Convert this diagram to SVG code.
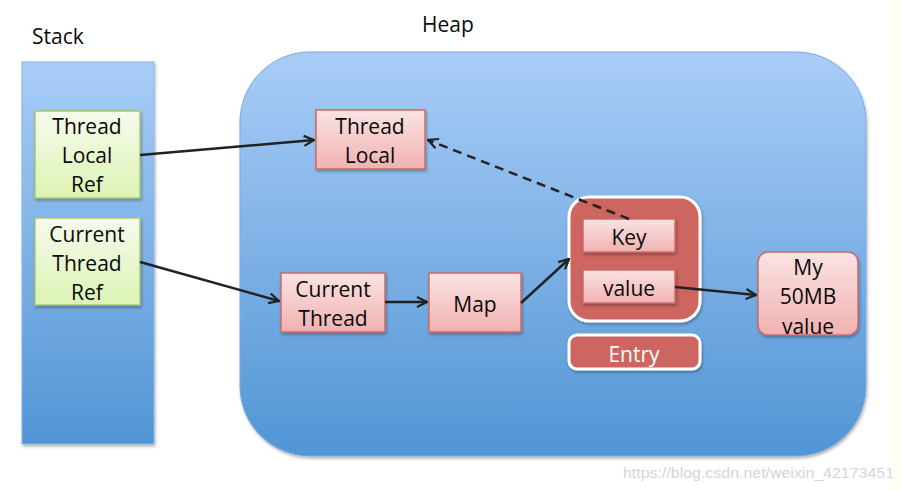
<svg xmlns="http://www.w3.org/2000/svg" width="902" height="491" viewBox="0 0 902 491">
<defs>
<linearGradient id="blue" x1="0" y1="0" x2="0" y2="1">
<stop offset="0" stop-color="#a9cdf7"/><stop offset="1" stop-color="#5195d5"/>
</linearGradient>
<linearGradient id="green" x1="0" y1="0" x2="0" y2="1">
<stop offset="0" stop-color="#f6fbec"/><stop offset="1" stop-color="#dcf3b4"/>
</linearGradient>
<linearGradient id="pink" x1="0" y1="0" x2="0" y2="1">
<stop offset="0" stop-color="#fbe3e3"/><stop offset="1" stop-color="#f0b2b1"/>
</linearGradient>
<filter id="sh" x="-10%" y="-10%" width="130%" height="130%">
<feDropShadow dx="1" dy="2" stdDeviation="1.5" flood-color="#000" flood-opacity="0.3"/>
</filter>
<marker id="arr" viewBox="0 0 12 12" refX="11" refY="6" markerWidth="12" markerHeight="12" markerUnits="userSpaceOnUse" orient="auto">
<path d="M1,1 L11,6 L1,11" fill="none" stroke="#222" stroke-width="2.2"/>
</marker>
</defs>
<style>
text{font-family:"Open Sans","Liberation Sans",sans-serif;fill:#0a0a0a;font-size:21px;text-anchor:middle}
.title{text-anchor:start}
.g{fill:url(#green);stroke:#a9c66f;stroke-width:1.5}
.p{fill:url(#pink);stroke:#cc6b69;stroke-width:1.5}
.c{stroke:#222;stroke-width:2.5;fill:none}
.wm{font-size:15px;fill:#d4d4d4;font-family:"Liberation Sans Narrow","Liberation Sans",sans-serif;text-anchor:start}
</style>
<rect x="890" y="0" width="12" height="491" fill="#fefef6"/>
<text class="title" x="32" y="44">Stack</text>
<text class="title" x="422" y="32">Heap</text>
<g id="stack"><rect x="22" y="62" width="132" height="382" fill="url(#blue)" stroke="#8ab4e6" stroke-width="1" filter="url(#sh)"/></g>
<g id="heap"><rect x="240" y="52" width="626" height="404" rx="70" fill="url(#blue)" stroke="#7aa9e0" stroke-width="1" filter="url(#sh)"/></g>
<g id="threadLocalRef"><rect class="g" x="35" y="111" width="105" height="87" filter="url(#sh)"/>
<text x="87" y="134">Thread</text><text x="87" y="163">Local</text><text x="87" y="192">Ref</text></g>
<g id="currentThreadRef"><rect class="g" x="35" y="218" width="105" height="87" filter="url(#sh)"/>
<text x="87" y="242">Current</text><text x="87" y="271">Thread</text><text x="87" y="300">Ref</text></g>
<g id="threadLocal"><rect class="p" x="316" y="110" width="109" height="59" filter="url(#sh)"/>
<text x="370" y="134">Thread</text><text x="370" y="163">Local</text></g>
<g id="currentThread"><rect class="p" x="281" y="273" width="104" height="59" filter="url(#sh)"/>
<text x="333" y="297">Current</text><text x="333" y="326">Thread</text></g>
<g id="map"><rect class="p" x="429" y="273" width="92" height="59" filter="url(#sh)"/>
<text x="475" y="312">Map</text></g>
<g id="entry"><rect x="569" y="197" width="131" height="124" rx="20" fill="#cd6560" stroke="#fff" stroke-width="3" filter="url(#sh)"/>
<rect class="p" x="583" y="219" width="92" height="33" stroke-width="1" filter="url(#sh)"/>
<text x="629" y="245">Key</text>
<rect class="p" x="583" y="270" width="92" height="33" stroke-width="1" filter="url(#sh)"/>
<text x="629" y="296">value</text></g>
<g id="entryLabel"><rect x="569" y="335" width="131" height="34" rx="8" fill="#cd6560" stroke="#fff" stroke-width="3" filter="url(#sh)"/>
<text x="634" y="362" style="fill:#fff">Entry</text></g>
<g id="myValue"><rect class="p" x="758" y="252" width="100" height="83" rx="10" filter="url(#sh)"/>
<text x="808" y="275">My</text><text x="808" y="304">50MB</text><text x="808" y="334">value</text></g>
<g id="connectors">
<line class="c" x1="140" y1="155" x2="314" y2="140" marker-end="url(#arr)"/>
<line class="c" x1="140" y1="262" x2="279" y2="301" marker-end="url(#arr)"/>
<line class="c" x1="385" y1="302" x2="427" y2="302" marker-end="url(#arr)"/>
<line class="c" x1="521" y1="303" x2="569" y2="259" marker-end="url(#arr)"/>
<line class="c" x1="675" y1="287" x2="756" y2="295" marker-end="url(#arr)"/>
<line class="c" x1="629" y1="219" x2="428" y2="140" stroke-dasharray="9,6" marker-end="url(#arr)"/>
</g>
<text class="wm" x="623" y="478" textLength="271" lengthAdjust="spacingAndGlyphs">https://blog.csdn.net/weixin_42173451</text>
</svg>
